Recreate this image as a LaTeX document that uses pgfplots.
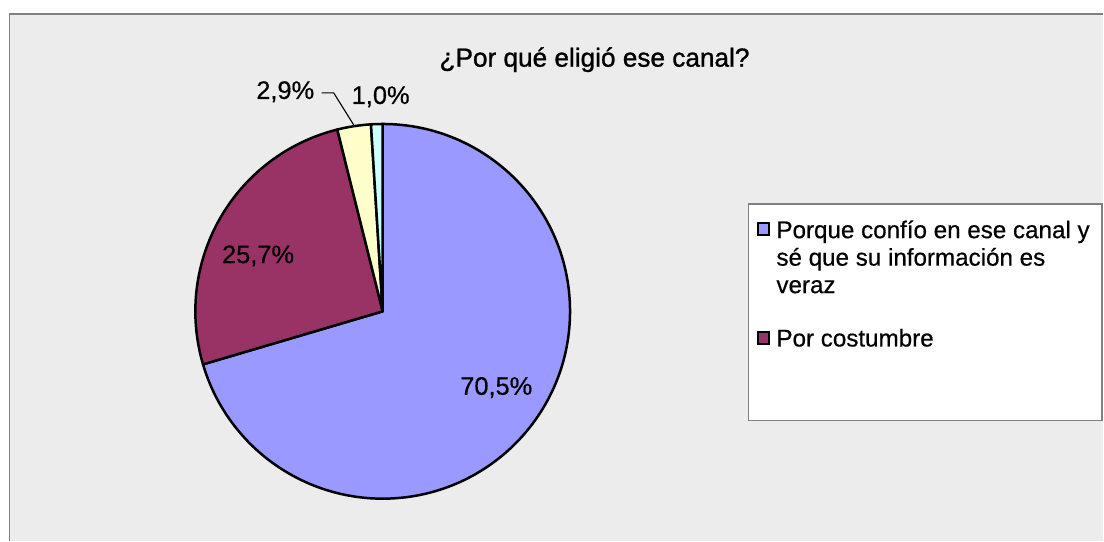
\documentclass[border=0pt]{standalone}
\usepackage{fontspec}
\setmainfont{Liberation Sans}
\newfontface\hv{Liberation Sans}[FakeBold=0.5]
\newfontface\hvt{Liberation Sans}[FakeBold=1.1]
\usepackage{pgfplots}
\usepackage{pgfplotstable}
\pgfplotsset{compat=1.18}
\definecolor{cA}{HTML}{9999FF}
\definecolor{cB}{HTML}{993366}
\definecolor{cC}{HTML}{FFFFCC}
\definecolor{cD}{HTML}{CCFFFF}
\definecolor{bg}{HTML}{ECECEC}
\definecolor{frame}{HTML}{808080}

\pgfplotstableread{
label value
A 70.5
B 25.7
C 2.9
D 1.0
}\piedata

\begin{document}
\begin{tikzpicture}
\pgfplotstablegetelem{0}{value}\of\piedata\pgfmathsetmacro{\vA}{\pgfplotsretval}
\pgfplotstablegetelem{1}{value}\of\piedata\pgfmathsetmacro{\vB}{\pgfplotsretval}
\pgfplotstablegetelem{2}{value}\of\piedata\pgfmathsetmacro{\vC}{\pgfplotsretval}
\pgfplotstablegetelem{3}{value}\of\piedata\pgfmathsetmacro{\vD}{\pgfplotsretval}
\pgfmathsetmacro{\tot}{\vA+\vB+\vC+\vD}
\pgfmathsetmacro{\aA}{90-\vA/\tot*360}
\pgfmathsetmacro{\aB}{\aA-\vB/\tot*360}
\pgfmathsetmacro{\aC}{\aB-\vC/\tot*360}
\pgfmathsetmacro{\aD}{\aC-\vD/\tot*360}
\def\R{93.75pt}
\begin{axis}[hide axis, scale only axis, width=552pt, height=270.5pt,
  xmin=0, xmax=1104, ymin=0, ymax=541, clip=false]
% background
\fill[white] (axis cs:0,0) rectangle (axis cs:1104,541);
\fill[bg] (axis cs:9.5,0) rectangle (axis cs:1104,527);
\draw[frame, line width=0.9pt] (axis cs:9.5,0) -- (axis cs:9.5,527) -- (axis cs:1104,527);
% title
\node[anchor=base, font=\hvt\fontsize{13.1}{15}\selectfont] at (axis cs:595,474.3) {¿Por qué eligió ese canal?};
% slices
\filldraw[fill=cA, draw=black, line width=1.25pt, line join=round] (axis cs:383,229.5) -- ++(90:\R) arc[start angle=90, end angle=\aA, radius=\R] -- cycle;
\filldraw[fill=cB, draw=black, line width=1.25pt, line join=round] (axis cs:383,229.5) -- ++(\aA:\R) arc[start angle=\aA, end angle=\aB, radius=\R] -- cycle;
\filldraw[fill=cC, draw=black, line width=1.25pt, line join=round] (axis cs:383,229.5) -- ++(\aB:\R) arc[start angle=\aB, end angle=\aC, radius=\R] -- cycle;
\filldraw[fill=cD, draw=black, line width=1.25pt, line join=round] (axis cs:383,229.5) -- ++(\aC:\R) arc[start angle=\aC, end angle=\aD, radius=\R] -- cycle;
% data labels
\node[anchor=base, font=\hv\fontsize{12.7}{15}\selectfont] at (axis cs:496.7,146) {70,5\%};
\node[anchor=base, font=\hv\fontsize{12.7}{15}\selectfont] at (axis cs:258.3,277.7) {25,7\%};
\node[anchor=base, font=\hv\fontsize{12.7}{15}\selectfont] at (axis cs:285.5,442) {2,9\%};
\node[anchor=base, font=\hv\fontsize{12.7}{15}\selectfont] at (axis cs:381,437) {1,0\%};
\draw[black, line width=0.55pt] (axis cs:322,448) -- (axis cs:334,448) -- (axis cs:354,416);
% legend
\filldraw[fill=white, draw=frame, line width=0.7pt] (axis cs:749.3,120.3) rectangle (axis cs:1102.7,337);
\filldraw[fill=cA, draw=black, line width=0.9pt] (axis cs:758.5,306) rectangle (axis cs:769.5,318);
\filldraw[fill=cB, draw=black, line width=0.9pt] (axis cs:758.5,197) rectangle (axis cs:769.5,209);
\node[anchor=base west, inner sep=0pt, font=\hv\fontsize{12.1}{14}\selectfont] at (axis cs:776.7,302.7) {Porque confío en ese canal y};
\node[anchor=base west, inner sep=0pt, font=\hv\fontsize{12.1}{14}\selectfont] at (axis cs:776.7,275.2) {sé que su información es};
\node[anchor=base west, inner sep=0pt, font=\hv\fontsize{12.1}{14}\selectfont] at (axis cs:776.7,247.7) {veraz};
\node[anchor=base west, inner sep=0pt, font=\hv\fontsize{12.1}{14}\selectfont] at (axis cs:776.7,194.3) {Por costumbre};
\end{axis}
\end{tikzpicture}
\end{document}
